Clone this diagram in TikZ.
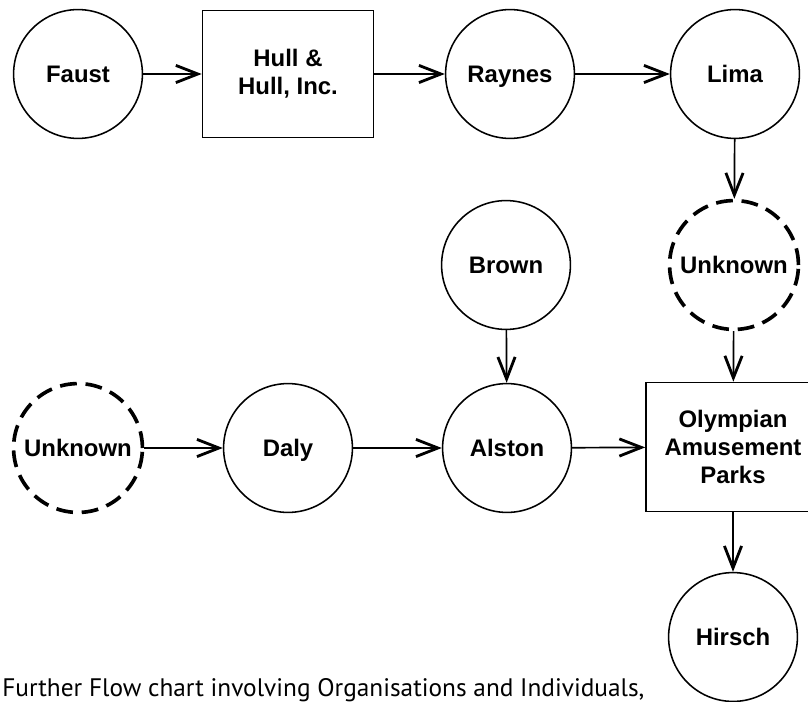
\documentclass[tikz,border=0pt]{standalone}
\usepackage{fontspec}
\setmainfont{Liberation Sans}
\newfontfamily\captionfont{PT Sans}
\usepackage{tikz}
\usetikzlibrary{arrows.meta}

\tikzset{
	party/.style={circle,draw,line width=1.1pt,minimum size=3.22cm,inner sep=0pt,
		text height=12.2pt,text depth=0pt,font=\fontsize{17}{20}\selectfont\bfseries},
	unknownparty/.style={party,line width=2.6pt,dash pattern=on 0.42cm off 0.22cm},
	firm/.style={rectangle,draw,line width=1.1pt,inner sep=0pt,align=center,
		font=\fontsize{17}{20}\selectfont\bfseries}
}

\begin{document}
\begin{tikzpicture}[x=0.025cm,y=-0.025cm]
		\useasboundingbox (0,0) rectangle (808,702);
		% top row
		\node[party] (F) at (78,74) {Faust};
		\node[firm,minimum width=4.275cm,minimum height=3.175cm] (H) at (288,74) {Hull \&\\Hull, Inc.};
		\node[party] (R) at (510,74) {Raynes};
		\node[party] (L) at (735,74) {Lima};
		% middle
		\node[unknownparty] (U) at (734,265) {Unknown};
		\node[party] (B) at (506,265) {Brown};
		% bottom row
		\node[unknownparty] (U') at (78,448) {Unknown};
		\node[party] (D) at (288,448) {Daly};
		\node[party] (A) at (507,448) {Alston};
		\node[firm,minimum width=4.35cm,minimum height=3.225cm] (O) at (733,447) {Olympian\\Amusement\\Parks};
		\node[party] (Hi) at (733,637) {Hirsch};
		%
		\node[anchor=base west,inner sep=0pt,font=\captionfont\fontsize{18}{20}\selectfont] (cap) at (2,696)
			{Further Flow chart involving Organisations and Individuals,};
		%
		\path[-{Straight Barb[length=0.55cm,width=0.43cm,line width=2pt]},line width=1.2pt]
		% horizontal arrows
		(F) edge (H)
		(H) edge (R)
		(R) edge (L)
		(U') edge (D)
		(D) edge (A)
		(A) edge (O)
		% vertical arrows
		(L) edge (U)
		(U) edge (O)
		(B) edge (A)
		(O) edge (Hi);
	\end{tikzpicture}
\end{document}
